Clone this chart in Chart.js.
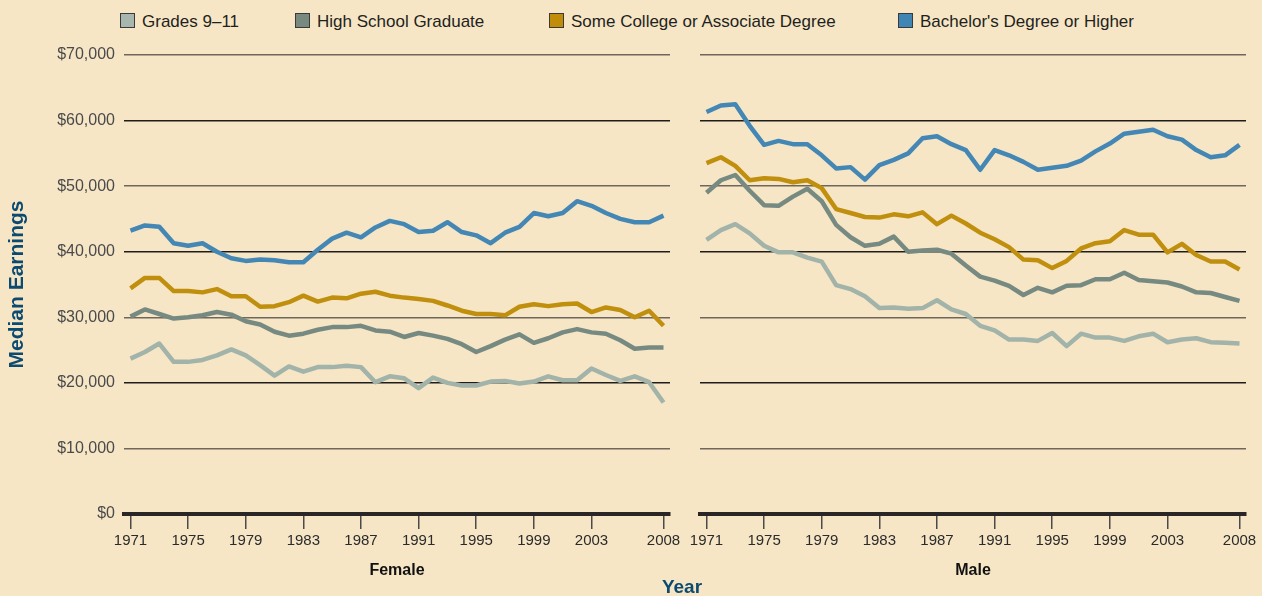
<!DOCTYPE html>
<html>
<head>
<meta charset="utf-8">
<script src="https://cdn.jsdelivr.net/npm/chart.js@4.4.1/dist/chart.umd.min.js"></script>
<style>
body {
	margin: 0;
	width: 1262px;
	height: 596px;
	overflow: hidden;
	position: relative;
	background: #f6e6c6;
	font-family: 'Liberation Sans', Arial, sans-serif;
}
canvas { position: absolute; left: 0; top: 0; }
.legend-item {
	position: absolute;
	top: 12.5px;
	font-size: 17px;
	line-height: 17px;
	color: #231f20;
	white-space: nowrap;
}
.swatch {
	display: inline-block;
	width: 13px;
	height: 13px;
	border: 1px solid #3a3a3a;
	vertical-align: top;
	margin-right: 7px;
}
#yearTitle {
	position: absolute;
	left: 632px;
	top: 577px;
	width: 100px;
	text-align: center;
	font-size: 19px;
	line-height: 19px;
	font-weight: bold;
	color: #0d4a70;
}
</style>
</head>
<body>
<div class="legend-item" style="left:120px"><span class="swatch" style="background:#a7b6ae"></span>Grades 9–11</div>
<div class="legend-item" style="left:295px"><span class="swatch" style="background:#78897f"></span>High School Graduate</div>
<div class="legend-item" style="left:549px"><span class="swatch" style="background:#c18c08"></span>Some College or Associate Degree</div>
<div class="legend-item" style="left:898px"><span class="swatch" style="background:#3f86b4"></span>Bachelor's Degree or Higher</div>

<canvas id="femaleChart" width="1262" height="596"></canvas>
<canvas id="maleChart" width="1262" height="596"></canvas>
<div id="yearTitle">Year</div>

<script>
// median earnings, thousands of dollars
const years = [1971, 1972, 1973, 1974, 1975, 1976, 1977, 1978, 1979, 1980,
	1981, 1982, 1983, 1984, 1985, 1986, 1987, 1988, 1989, 1990,
	1991, 1992, 1993, 1994, 1995, 1996, 1997, 1998, 1999, 2000,
	2001, 2002, 2003, 2004, 2005, 2006, 2007, 2008];
const tickYears = [1971, 1975, 1979, 1983, 1987, 1991, 1995, 1999, 2003, 2008];

const femaleGrades = [23.7, 24.7, 26.0, 23.2, 23.2, 23.5, 24.2, 25.1, 24.2, 22.7,
	21.1, 22.5, 21.7, 22.4, 22.4, 22.6, 22.4, 20.1, 21.0, 20.7,
	19.2, 20.8, 20.0, 19.6, 19.6, 20.2, 20.3, 19.9, 20.2, 21.0,
	20.4, 20.4, 22.2, 21.2, 20.3, 21.0, 20.1, 17.0];
const femaleHS = [30.1, 31.2, 30.5, 29.8, 30.0, 30.3, 30.8, 30.4, 29.4, 28.9,
	27.8, 27.2, 27.5, 28.1, 28.5, 28.5, 28.7, 28.0, 27.8, 27.0,
	27.6, 27.2, 26.7, 25.9, 24.7, 25.6, 26.6, 27.4, 26.1, 26.8,
	27.7, 28.2, 27.7, 27.5, 26.5, 25.2, 25.4, 25.4];
const femaleSome = [34.4, 36.0, 36.0, 34.0, 34.0, 33.8, 34.3, 33.2, 33.2, 31.6,
	31.7, 32.3, 33.3, 32.4, 33.0, 32.9, 33.6, 33.9, 33.3, 33.0,
	32.8, 32.5, 31.8, 31.0, 30.5, 30.5, 30.3, 31.6, 32.0, 31.7,
	32.0, 32.1, 30.8, 31.5, 31.1, 30.0, 31.0, 28.7];
const femaleBach = [43.2, 44.0, 43.8, 41.3, 40.9, 41.3, 40.0, 39.0, 38.6, 38.8,
	38.7, 38.4, 38.4, 40.3, 42.0, 42.9, 42.2, 43.7, 44.7, 44.2,
	43.0, 43.2, 44.5, 43.0, 42.5, 41.3, 42.9, 43.8, 45.9, 45.4,
	45.9, 47.7, 47.0, 45.9, 45.0, 44.5, 44.5, 45.5];

const maleGrades = [41.8, 43.3, 44.2, 42.8, 40.9, 39.9, 39.9, 39.1, 38.5, 34.9,
	34.3, 33.2, 31.4, 31.5, 31.3, 31.4, 32.6, 31.2, 30.5, 28.7,
	28.0, 26.6, 26.6, 26.4, 27.6, 25.6, 27.5, 26.9, 26.9, 26.4,
	27.1, 27.5, 26.2, 26.6, 26.8, 26.2, 26.1, 26.0];
const maleHS = [49.0, 50.9, 51.7, 49.3, 47.1, 47.0, 48.4, 49.6, 47.7, 44.1,
	42.2, 40.9, 41.2, 42.3, 40.0, 40.2, 40.3, 39.7, 37.9, 36.2,
	35.6, 34.8, 33.4, 34.5, 33.8, 34.8, 34.9, 35.8, 35.8, 36.8,
	35.7, 35.5, 35.3, 34.7, 33.8, 33.7, 33.1, 32.5];
const maleSome = [53.5, 54.4, 53.1, 50.9, 51.2, 51.1, 50.6, 50.9, 49.7, 46.5,
	45.9, 45.3, 45.2, 45.7, 45.4, 46.0, 44.2, 45.5, 44.3, 42.9,
	41.9, 40.7, 38.8, 38.7, 37.5, 38.6, 40.5, 41.3, 41.6, 43.3,
	42.6, 42.6, 39.9, 41.2, 39.5, 38.5, 38.5, 37.3];
const maleBach = [61.3, 62.3, 62.5, 59.2, 56.3, 56.9, 56.4, 56.4, 54.7, 52.7,
	52.9, 51.0, 53.2, 54.0, 55.0, 57.3, 57.6, 56.4, 55.5, 52.5,
	55.5, 54.7, 53.7, 52.5, 52.8, 53.1, 53.9, 55.3, 56.5, 58.0,
	58.3, 58.6, 57.6, 57.1, 55.5, 54.4, 54.7, 56.3];

const seriesNames = ['Grades 9–11', 'High School Graduate', 'Some College or Associate Degree', "Bachelor's Degree or Higher"];
const seriesColors = ['#a2b3aa', '#778a81', '#c08f0d', '#4487b5'];

Chart.defaults.font.family = "'Liberation Sans', Arial, sans-serif";

function toPoints(values) {
	return values.map((v, i) => ({x: years[i], y: v}));
}

function panelConfig(title, seriesList, isLeft) {
	return {
		type: 'line',
		data: {
			datasets: seriesList.map((values, i) => ({
				label: seriesNames[i],
				data: toPoints(values),
				borderColor: seriesColors[i],
				borderWidth: 4.5,
				pointRadius: 0,
				tension: 0,
				borderJoinStyle: 'round'
			}))
		},
		options: {
			responsive: false,
			animation: false,
			layout: {
				padding: isLeft ? {left: 0, right: 592, top: 55, bottom: 0} : {left: 700, right: 16, top: 55, bottom: 0}
			},
			plugins: {
				legend: {display: false},
				tooltip: {enabled: false}
			},
			scales: {
				x: {
					type: 'linear',
					min: 1970.55,
					max: 2008.45,
					afterBuildTicks: s => { s.ticks = tickYears.map(v => ({value: v})); },
					afterFit: s => { s.height = 82; },
					ticks: {
						autoSkip: false,
						maxRotation: 0,
						padding: 3,
						color: '#2b2b2b',
						font: {size: 15},
						callback: v => String(v)
					},
					grid: {
						drawOnChartArea: false,
						drawTicks: true,
						tickLength: 15,
						color: '#4a4a4a',
						lineWidth: 1.5
					},
					border: {display: true, color: '#2a2626', width: 4},
					title: {
						display: true,
						text: title,
						color: '#111',
						font: {size: 16, weight: 'bold'},
						padding: {top: 0, bottom: 16}
					}
				},
				y: {
					min: 0,
					max: 70,
					afterFit: s => { s.width = isLeft ? 124 : 0; },
					ticks: {
						display: isLeft,
						stepSize: 10,
						padding: 9,
						color: '#4a4a4a',
						font: {size: 16},
						callback: v => '$' + (v * 1000).toLocaleString('en-US')
					},
					grid: {
						drawTicks: false,
						color: ctx => (ctx.tick.value / 10) % 2 === 1 ? '#6f675b' : '#1f1d1b',
						lineWidth: 1.5
					},
					border: {display: false},
					title: {
						display: isLeft,
						text: 'Median Earnings',
						color: '#0d4a70',
						font: {size: 21, weight: 'bold'},
						padding: {top: 5, bottom: 0}
					}
				}
			}
		}
	};
}

const femaleChart = new Chart(document.getElementById('femaleChart'),
	panelConfig('Female', [femaleGrades, femaleHS, femaleSome, femaleBach], true));

const maleChart = new Chart(document.getElementById('maleChart'),
	panelConfig('Male', [maleGrades, maleHS, maleSome, maleBach], false));
</script>
</body>
</html>
